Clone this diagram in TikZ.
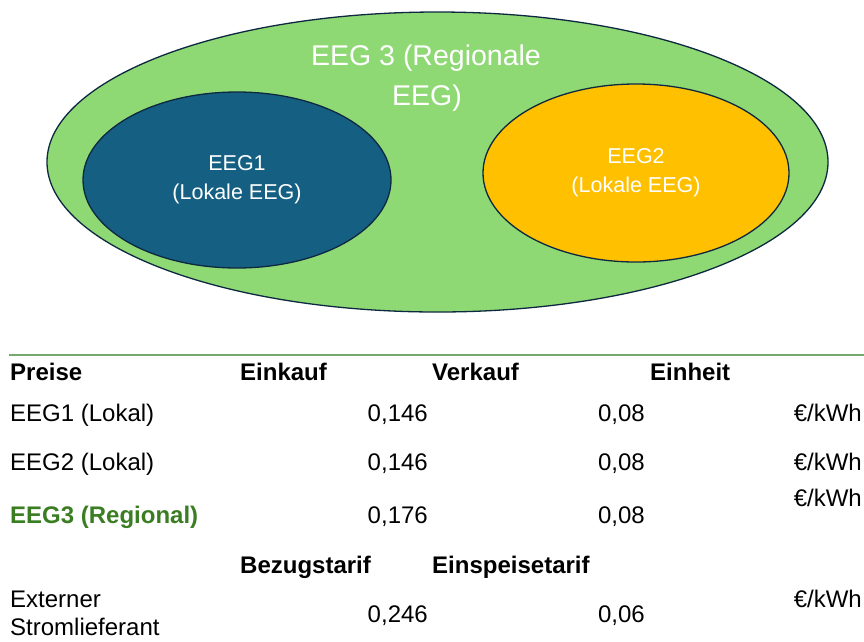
\documentclass[tikz,border=0pt]{standalone}
\usepackage{fontspec}
\setmainfont{Liberation Sans}
\usetikzlibrary{shapes.geometric}
\definecolor{outergreen}{HTML}{8ED973}
\definecolor{eegblue}{HTML}{156082}
\definecolor{eegyellow}{HTML}{FFC000}
\definecolor{outline}{HTML}{0E2841}
\definecolor{darkgreen}{HTML}{3A7D22}
\definecolor{rulegreen}{RGB}{118,168,112}
\tikzset{
  blob/.style={ellipse, draw=outline, line width=1.3pt, inner sep=0pt, outer sep=0pt, text=white, align=center},
  bigtxt/.style={anchor=base, text=white, inner sep=0pt, font=\fontsize{28.5}{34}\selectfont},
  smalltxt/.style={font=\fontsize{21.5}{29}\selectfont},
  cell/.style={anchor=base west, inner sep=0pt, font=\fontsize{24}{29}\selectfont},
  hdr/.style={cell, font=\fontsize{24}{29}\selectfont\bfseries},
  num/.style={anchor=base east, inner sep=0pt, font=\fontsize{24}{29}\selectfont},
}
\begin{document}
\begin{tikzpicture}[x=1pt,y=-1pt]
\useasboundingbox (0,0) rectangle (864,641);
% ellipses
\node[blob, fill=outergreen, minimum width=781, minimum height=300] (eeg3) at (437.5,162) {};
\node[bigtxt] (eeg3a) at (426,65) {EEG 3 (Regionale};
\node[bigtxt] (eeg3b) at (427,105) {EEG)};
\node[blob, fill=eegblue, smalltxt, minimum width=308, minimum height=176] (eeg1) at (237,180) {EEG1\\(Lokale EEG)};
\node[blob, fill=eegyellow, smalltxt, minimum width=306, minimum height=178] (eeg2) at (636,173) {EEG2\\(Lokale EEG)};
% rule
\coordinate (rl) at (9,354.5);
\coordinate (rr) at (864,354.5);
\draw[rulegreen, line width=2pt] (rl) -- (rr);
% header
\node[hdr] (h1) at (10,380) {Preise};
\node[hdr] (h2) at (240,380) {Einkauf};
\node[hdr] (h3) at (432,380) {Verkauf};
\node[hdr] (h4) at (650,380) {Einheit};
% EEG1
\node[cell] (r1a) at (10,421) {EEG1 (Lokal)};
\node[num] (r1b) at (428,421) {0,146};
\node[num] (r1c) at (645,421) {0,08};
\node[num] (r1d) at (862,421) {€/kWh};
% EEG2
\node[cell] (r2a) at (10,470) {EEG2 (Lokal)};
\node[num] (r2b) at (428,470) {0,146};
\node[num] (r2c) at (645,470) {0,08};
\node[num] (r2d) at (862,470) {€/kWh};
% EEG3
\node[hdr, text=darkgreen] (r3a) at (10,523) {EEG3 (Regional)};
\node[num] (r3b) at (428,523) {0,176};
\node[num] (r3c) at (645,523) {0,08};
\node[num] (r3d) at (862,506) {€/kWh};
% second header
\node[hdr] (h5) at (240,573) {Bezugstarif};
\node[hdr] (h6) at (432,573) {Einspeisetarif};
% external
\node[cell] (r4a) at (10,607) {Externer};
\node[cell] (r4a2) at (10,635) {Stromlieferant};
\node[num] (r4b) at (428,622) {0,246};
\node[num] (r4c) at (645,622) {0,06};
\node[num] (r4d) at (862,607) {€/kWh};
\end{tikzpicture}
\end{document}
